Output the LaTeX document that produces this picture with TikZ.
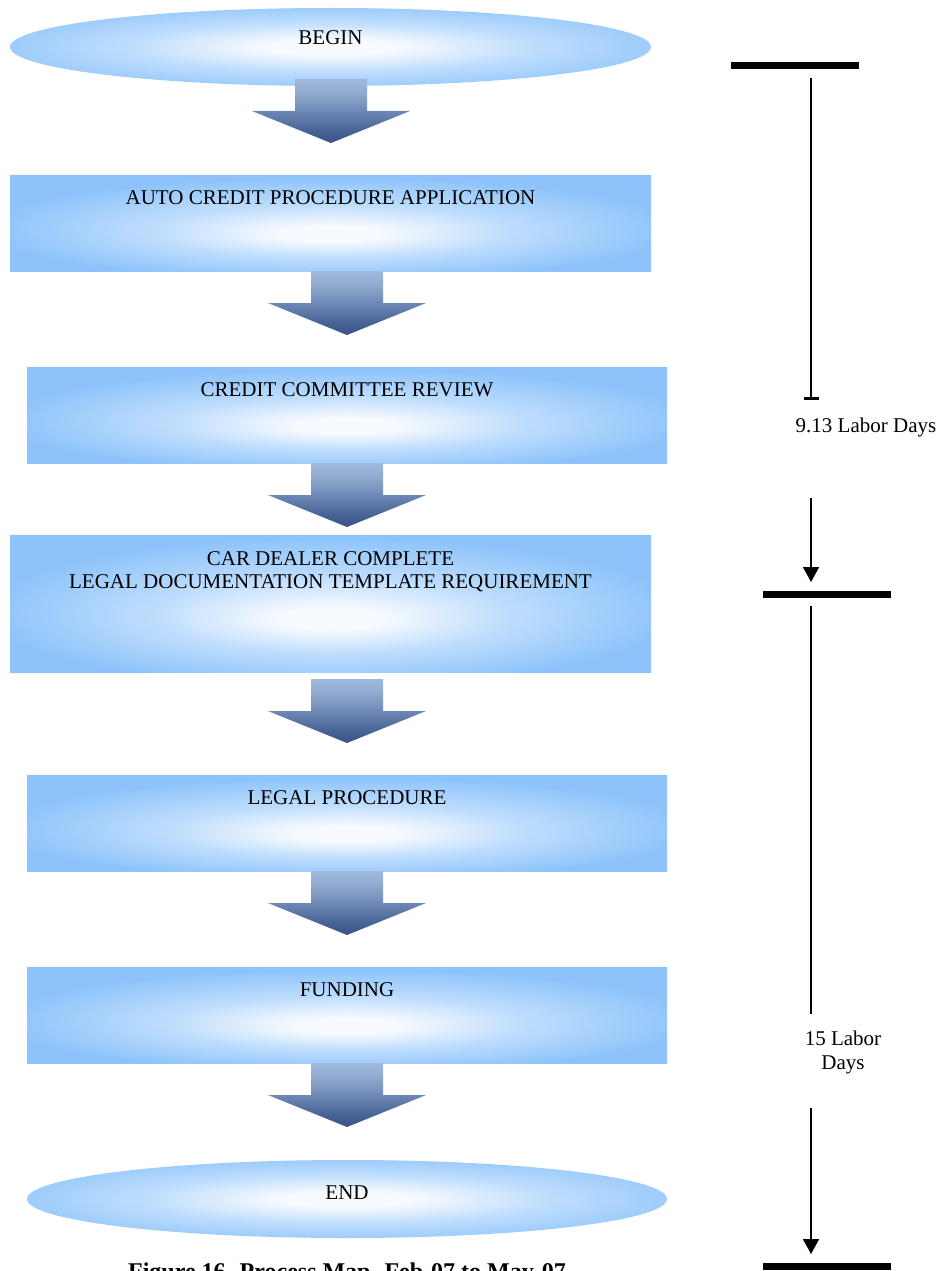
\documentclass[tikz,border=0pt]{standalone}
\usepackage{fontspec}
\setmainfont{Liberation Serif}
\usetikzlibrary{shapes.geometric,arrows.meta,calc}

% palette
\definecolor{boxblue}{RGB}{141,195,250}
\definecolor{boxmid}{RGB}{190,221,253}
\definecolor{glowwhite}{RGB}{247,250,255}
\definecolor{arrowtop}{RGB}{190,221,250}
\definecolor{arrowupper}{RGB}{146,172,210}
\definecolor{arrowlower}{RGB}{72,100,152}
\definecolor{arrowbot}{RGB}{14,40,94}

% soft white core fading to blue towards the edges
\pgfdeclareradialshading{boxglow}{\pgfpoint{0bp}{-6bp}}{color(0bp)=(glowwhite); color(4bp)=(glowwhite); color(14bp)=(boxmid); color(27bp)=(boxblue); color(50bp)=(boxblue)}
\pgfdeclareradialshading{ovalglow}{\pgfpoint{0bp}{0bp}}{color(0bp)=(glowwhite); color(5bp)=(glowwhite); color(16bp)=(boxmid); color(30bp)=(boxblue); color(50bp)=(boxblue)}
% block arrows: light at the top, navy at the tip
\pgfdeclareverticalshading{arrowfade}{100bp}{color(0bp)=(arrowbot); color(35bp)=(arrowlower); color(65bp)=(arrowupper); color(100bp)=(arrowtop)}

% downward block arrow hanging from a named top point
\newcommand\blockarrowdown[1]{%
  \path[shade,shading=arrowfade]
    ([xshift=-36pt]#1) -- ++(72,0) -- ++(0,32) -- ++(43,0) -- ++(-79,32)
    -- ++(-79,-32) -- ++(43,0) -- cycle;}

\tikzset{
  flowbox/.style={rectangle, draw=none, inner sep=0pt, shade, shading=boxglow,
                  minimum width=641pt, minimum height=96pt},
  flowoval/.style={ellipse, draw=none, inner sep=0pt, shade, shading=ovalglow,
                   minimum width=641pt, minimum height=78pt},
  lbl/.style={inner sep=0pt, font=\fontsize{21}{23}\selectfont},
  timebar/.style={line width=7pt},
  timeline/.style={line width=1.6pt},
}

\begin{document}
\begin{tikzpicture}[x=1pt,y=-1pt]
  \useasboundingbox (0,0) rectangle (946,1271);
  \fill[white] (0,0) rectangle (946,1271);

  % process steps
  \node[flowoval] (begin) at (330.5,47) {};
  \node[flowbox] (apply) at (330.5,223) {};
  \node[flowbox, minimum width=640pt] (review) at (347,415) {};
  \node[flowbox, minimum height=137pt] (dealer) at (330.5,603.5) {};
  \node[flowbox, minimum width=640pt] (legal) at (347,823) {};
  \node[flowbox, minimum width=640pt] (funding) at (347,1015) {};
  \node[flowoval, minimum width=640pt] (end) at (347,1199) {};

  % step captions
  \node[lbl, anchor=base] (t-begin) at (330.5,45) {BEGIN};
  \node[lbl, anchor=base] (t-apply) at (330.5,204) {AUTO CREDIT PROCEDURE APPLICATION};
  \node[lbl, anchor=base] (t-review) at (347,396) {CREDIT COMMITTEE REVIEW};
  \node[lbl, align=center] (t-dealer) at (330.5,572) {CAR DEALER COMPLETE\\LEGAL DOCUMENTATION TEMPLATE REQUIREMENT};
  \node[lbl, anchor=base] (t-legal) at (347,804) {LEGAL PROCEDURE};
  \node[lbl, anchor=base] (t-funding) at (347,996) {FUNDING};
  \node[lbl, anchor=base] (t-end) at (347,1199) {END};

  % block arrows between the steps
  \coordinate (a1) at (331,79);
  \coordinate (a2) at (347,271);
  \coordinate (a3) at (347,463);
  \coordinate (a4) at (347,679);
  \coordinate (a5) at (347,871);
  \coordinate (a6) at (347,1063);
  \blockarrowdown{a1}
  \blockarrowdown{a2}
  \blockarrowdown{a3}
  \blockarrowdown{a4}
  \blockarrowdown{a5}
  \blockarrowdown{a6}

  % time scale on the right
  \coordinate (bar1l) at (731,66);   \coordinate (bar1r) at (859,66);
  \coordinate (bar2l) at (763,594);  \coordinate (bar2r) at (891,594);
  \coordinate (bar3l) at (763,1266); \coordinate (bar3r) at (891,1266);
  \draw[timebar] (bar1l) -- (bar1r);
  \draw[timebar] (bar2l) -- (bar2r);
  \draw[timebar] (bar3l) -- (bar3r);

  \coordinate (s1a) at (811,78);   \coordinate (s1b) at (811,400);
  \coordinate (s2a) at (811,498);  \coordinate (s2b) at (811,582);
  \coordinate (s3a) at (811,606);  \coordinate (s3b) at (811,1014);
  \coordinate (s4a) at (811,1108); \coordinate (s4b) at (811,1254);
  \draw[timeline, -{Bar[width=15pt,line width=3pt]}] (s1a) -- (s1b);
  \draw[timeline, -{Triangle[length=15pt,width=16pt]}] (s2a) -- (s2b);
  \draw[timeline] (s3a) -- (s3b);
  \draw[timeline, -{Triangle[length=15pt,width=16pt]}] (s4a) -- (s4b);

  \node[lbl, anchor=base] (d1) at (866,432) {9.13 Labor Days};
  \node[lbl, align=center, font=\fontsize{21}{24}\selectfont] (d2) at (843,1052) {15 Labor\\Days};

  % figure caption, running off the lower edge
  \node[inner sep=0pt, anchor=base, font=\bfseries\fontsize{24}{28}\selectfont] (caption)
    at (347,1279) {Figure 16. Process Map. Feb-07 to May-07};
\end{tikzpicture}
\end{document}
